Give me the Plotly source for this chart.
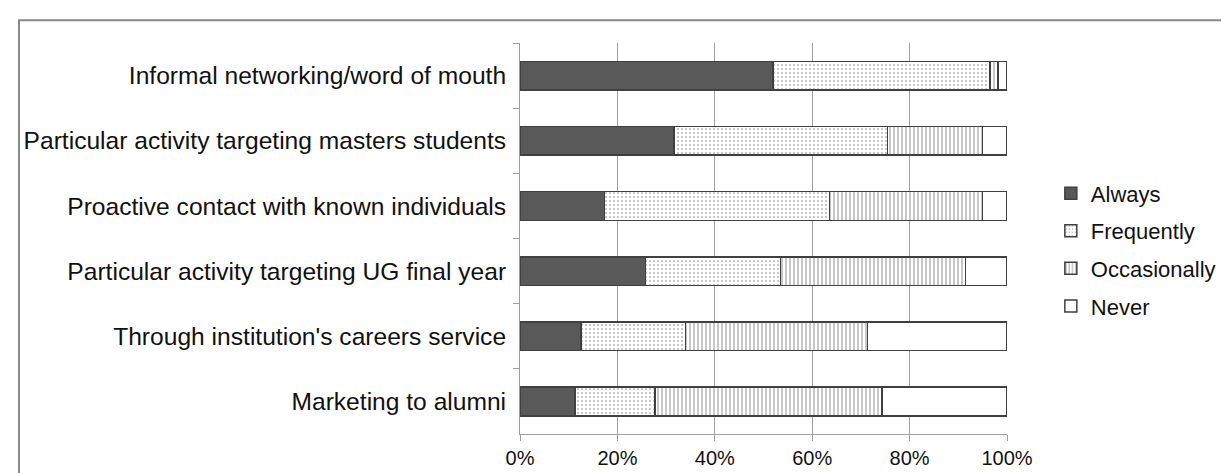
import plotly.graph_objects as go

categories = [
    "Informal networking/word of mouth",
    "Particular activity targeting masters students",
    "Proactive contact with known individuals",
    "Particular activity targeting UG final year",
    "Through institution's careers service",
    "Marketing to alumni",
]
always = [52.0, 31.6, 17.4, 25.8, 12.5, 11.3]
frequently = [44.5, 43.9, 46.2, 27.7, 21.5, 16.4]
occasionally = [1.6, 19.5, 31.4, 38.0, 37.4, 46.6]
never = [1.9, 5.0, 5.0, 8.5, 28.6, 25.7]
x_ticks = [0, 20, 40, 60, 80, 100]
x_tick_labels = ["0%", "20%", "40%", "60%", "80%", "100%"]

edge = dict(color="#404040", width=1.5)
series = [
    ("Always", always, dict(color="#595959", line=edge)),
    ("Frequently", frequently, dict(color="white", line=edge,
                                    pattern=dict(shape=".", fgcolor="#707070", bgcolor="white",
                                                 size=4, solidity=0.2))),
    ("Occasionally", occasionally, dict(color="white", line=edge,
                                        pattern=dict(shape="|", fgcolor="#5f5f5f", bgcolor="white",
                                                     size=4, solidity=0.35))),
    ("Never", never, dict(color="white", line=edge)),
]

fig = go.Figure()
for name, vals, marker in series:
    fig.add_trace(go.Bar(
        y=categories, x=vals, name=name, orientation="h",
        marker=marker, legendgroup=name,
    ))

font = "Liberation Sans, Arial, sans-serif"
fig.update_layout(
    width=1229, height=473,
    margin=dict(l=512, r=230, t=35, b=41),
    barmode="stack", bargap=0.56,
    plot_bgcolor="white", paper_bgcolor="white",
    font=dict(family=font, size=21, color="#111111"),
    legend=dict(x=1.09, y=0.471, xanchor="left", yanchor="middle",
                traceorder="grouped", tracegroupgap=6,
                font=dict(size=22), itemwidth=30),
    showlegend=True,
)
fig.update_xaxes(
    range=[0, 100], tickvals=x_ticks, ticktext=x_tick_labels,
    showgrid=True, gridcolor="#a0a0a0", gridwidth=1,
    showline=True, linecolor="#a0a0a0", linewidth=1,
    ticks="outside", ticklen=6, tickcolor="#a0a0a0",
    zeroline=False, tickfont=dict(size=20),
)
fig.update_yaxes(
    categoryorder="array", categoryarray=categories, autorange="reversed",
    showline=True, linecolor="#a0a0a0", linewidth=1,
    ticks="outside", ticklen=6, tickcolor="#a0a0a0", tickson="boundaries",
    showgrid=False, tickfont=dict(size=24.6), ticklabelstandoff=8,
)
fig.add_shape(type="rect", xref="paper", yref="paper",
              x0=-1.0287, x1=1.6, y0=1.058, y1=-0.2,
              line=dict(color="#888888", width=2), fillcolor="rgba(0,0,0,0)", layer="below")
fig.write_html("out.html")
